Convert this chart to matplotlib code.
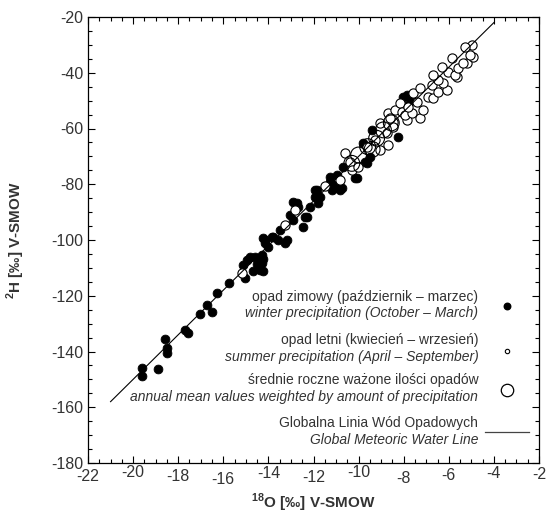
import matplotlib
matplotlib.use('Agg')
import matplotlib.pyplot as plt
import matplotlib.transforms as mtransforms
from matplotlib.ticker import MultipleLocator

# winter precipitation (filled)
winter_x = [-19.62, -19.62, -18.88, -18.58, -18.48, -18.48, -17.70, -17.55, -17.03, -16.74,
            -16.52, -16.29, -15.73, -15.11, -15.02, -14.96, -14.81, -14.70, -14.59, -14.52,
            -14.37, -14.30, -14.30, -14.22, -14.24, -14.22, -14.15, -14.00, -13.78, -13.49,
            -13.19, -12.89, -13.04, -12.89, -12.67, -12.45, -12.38, -12.16, -11.93, -11.79,
            -13.85, -13.56, -14.15, -11.93, -11.71, -11.27, -11.19, -11.12, -10.97, -10.82,
            -10.75, -10.68, -10.16, -9.72, -9.79, -9.42, -9.50, -9.64, -8.24, -8.02,
            -7.79, -7.87, -7.72, -13.26, -12.75, -12.30, -11.86, -11.27, -10.83, -10.09]
winter_y = [-146.0, -148.8, -146.4, -135.6, -138.9, -140.7, -132.3, -133.5, -126.7, -123.3,
            -125.7, -118.9, -115.3, -109.0, -113.5, -107.2, -106.0, -111.1, -106.0, -108.6,
            -110.8, -105.4, -108.4, -106.9, -111.1, -99.4, -100.0, -102.4, -98.8, -96.4,
            -100.0, -92.8, -91.0, -86.2, -88.0, -95.2, -91.6, -88.0, -84.5, -86.8,
            -98.8, -100.0, -101.2, -82.1, -84.5, -77.3, -82.1, -80.3, -76.7, -82.1,
            -81.5, -73.7, -77.9, -71.9, -65.3, -60.5, -70.1, -72.5, -62.9, -48.6,
            -51.6, -48.0, -49.2, -101.2, -86.8, -91.6, -82.1, -79.1, -81.5, -77.9]

# summer precipitation (open)
summer_x = [-15.19, -13.26, -12.82, -11.50, -10.83, -10.60, -10.38, -10.31, -10.01, -9.64,
            -9.27, -9.05, -9.05, -8.76, -8.68, -8.68, -8.46, -8.39, -8.17, -8.09,
            -7.87, -8.46, -8.61, -7.94, -7.65, -7.79, -7.28, -7.13, -7.43, -7.57,
            -6.91, -6.69, -7.28, -6.46, -6.09, -6.24, -6.76, -6.46, -6.69, -5.65,
            -6.02, -6.32, -5.73, -5.87, -5.58, -5.21, -5.36, -4.91, -5.06, -4.99,
            -5.28]
summer_y = [-112.0, -94.6, -89.2, -80.5, -78.5, -68.9, -71.9, -74.9, -73.7, -66.5,
            -64.1, -58.2, -67.7, -61.7, -54.6, -65.9, -57.6, -53.4, -51.0, -54.0,
            -57.0, -59.3, -56.3, -55.2, -54.6, -52.2, -56.3, -53.4, -50.4, -47.4,
            -48.6, -49.2, -45.6, -46.8, -46.2, -43.8, -44.4, -42.6, -40.8, -41.4,
            -39.6, -37.8, -40.8, -34.8, -38.4, -36.6, -36.6, -34.2, -33.6, -30.0,
            -30.6]

# annual means weighted by amount of precipitation
annual_x = [-10.3, -10.0, -9.6, -9.2, -8.9, -8.55, -9.4]
annual_y = [-72.5, -69.5, -66.5, -63.5, -60.5, -58.0, -67.5]

# Global Meteoric Water Line end points
gmwl_x = [-21.0, -4.0]
gmwl_y = [-158.0, -22.0]

legend_pl = ['opad zimowy (październik \u2013 marzec)',
             'opad letni (kwiecień \u2013 wrzesień)',
             'średnie roczne ważone ilości opadów',
             'Globalna Linia Wód Opadowych']
legend_en = ['winter precipitation (October \u2013 March)',
             'summer precipitation (April \u2013 September)',
             'annual mean values weighted by amount of precipitation',
             'Global Meteoric Water Line']

plt.rcParams['font.family'] = ['Liberation Sans', 'DejaVu Sans']
plt.rcParams['axes.unicode_minus'] = False
plt.rcParams['mathtext.fontset'] = 'custom'
plt.rcParams['mathtext.rm'] = 'Liberation Sans'
plt.rcParams['mathtext.bf'] = 'Liberation Sans:bold'

txt = '#333333'

fig = plt.figure(figsize=(5.47, 5.17), dpi=100)
ax = fig.add_axes([88/547, 1-463/517, (539-88)/547, (463-17)/517])

ax.scatter(winter_x, winter_y, s=40, c='black', edgecolors='black', linewidths=0.6, zorder=2)
ax.scatter(summer_x, summer_y, s=44, c='white', edgecolors='black', linewidths=0.8, zorder=3)
ax.scatter(annual_x, annual_y, s=130, facecolors='none', edgecolors='black', linewidths=0.8, zorder=4)
ax.plot(gmwl_x, gmwl_y, color='black', lw=0.8, zorder=5)

ax.set_xlim(-22, -2)
ax.set_ylim(-180, -20)
ax.xaxis.set_major_locator(MultipleLocator(2))
ax.xaxis.set_minor_locator(MultipleLocator(0.5))
ax.yaxis.set_major_locator(MultipleLocator(20))
ax.yaxis.set_minor_locator(MultipleLocator(5))
ax.tick_params(which='both', direction='in', top=True, right=True, width=0.8, colors='black',
               labelcolor=txt, labelsize=11.5)
ax.tick_params(which='major', length=5)
ax.tick_params(which='minor', length=3)
ax.tick_params(axis='x', pad=3)
for sp in ax.spines.values():
    sp.set_linewidth(0.9)

# slightly uneven x tick labels as in the print
shifts = [0, -2, 2, -2, -5, 1, -3, 2, -4, -1, 1]
fig.canvas.draw()
for lab, dy in zip(ax.get_xticklabels(), shifts):
    lab.set_transform(lab.get_transform() + mtransforms.ScaledTranslation(0, dy/100, fig.dpi_scale_trans))

ax.set_xlabel(r'$^{\mathbf{18}}$O [‰] V-SMOW', fontsize=11, fontweight='bold', color=txt)
ax.set_ylabel(r'$^{\mathbf{2}}$H [‰] V-SMOW', fontsize=11, fontweight='bold', color=txt)
ax.xaxis.set_label_coords(0.5, -0.064)
ax.yaxis.set_label_coords(-0.135, 0.5)

# legend drawn by hand
ty = [-120.3, -135.9, -150.2, -165.7]
tx = -4.69
for i in range(4):
    ax.text(tx, ty[i], legend_pl[i], ha='right', va='center', fontsize=10, color=txt)
    ax.text(tx, ty[i] - 6.0, legend_en[i], ha='right', va='center', fontsize=10,
            style='italic', color=txt)
ax.scatter([-3.44], [-123.6], s=22, c='black', zorder=6)
ax.scatter([-3.44], [-139.7], s=10, c='white', edgecolors='black', linewidths=0.8, zorder=6)
ax.scatter([-3.44], [-153.8], s=80, c='white', edgecolors='black', linewidths=0.9, zorder=6)
ax.plot([-4.39, -2.44], [-168.7, -168.7], color='#444444', lw=0.9)

fig.savefig('out.png', dpi=100)
